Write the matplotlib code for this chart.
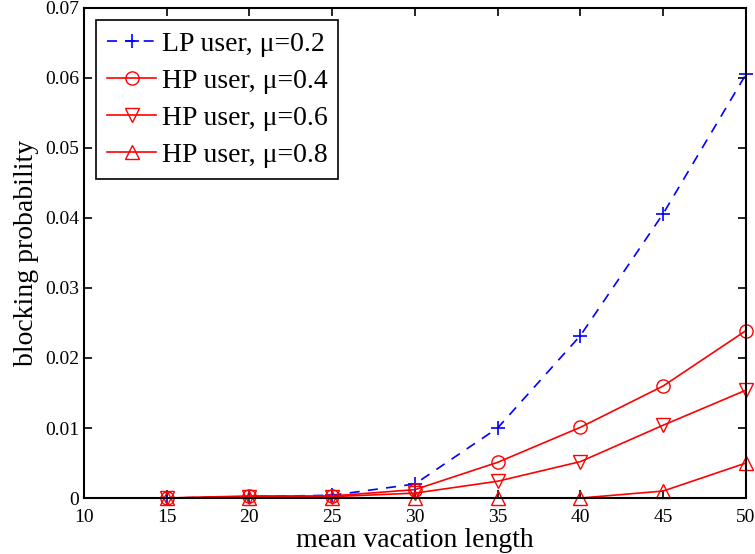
import matplotlib.pyplot as plt

plt.rcParams['font.family'] = ['Liberation Serif', 'DejaVu Serif']

vacation = [15, 20, 25, 30, 35, 40, 45, 50]
lp_02 = [0.0, 0.0002, 0.0004, 0.002, 0.0100, 0.0232, 0.0406, 0.0605]
hp_04 = [0.0, 0.0003, 0.0003, 0.0012, 0.0051, 0.0101, 0.0160, 0.0239]
hp_06 = [0.0, 0.0002, 0.0002, 0.0007, 0.0024, 0.0052, 0.0104, 0.0154]
hp_08 = [0.0, 0.0, 0.0, 0.0, 0.0, 0.0, 0.0010, 0.0050]

fig = plt.figure(figsize=(7.55, 5.54), dpi=100)
ax = fig.add_axes([0.111, 0.101, 0.877, 0.885])

ax.plot(vacation, lp_02, '--+', color='blue', ms=10, mew=1.2, lw=1.2, clip_on=False,
        dashes=(6, 5), label='LP user, μ=0.2')
ax.plot(vacation, hp_04, '-o', color='red', ms=9.5, mfc='none', lw=1.2, clip_on=False,
        label='HP user, μ=0.4')
ax.plot(vacation, hp_06, '-v', color='red', ms=9.5, mfc='none', lw=1.2, clip_on=False,
        label='HP user, μ=0.6')
ax.plot(vacation, hp_08, '-^', color='red', ms=9.5, mfc='none', lw=1.2, clip_on=False,
        label='HP user, μ=0.8')

ax.set_xlim(10, 50)
ax.set_ylim(0, 0.07)
ax.set_xticks(range(10, 51, 5))
ax.set_yticks([0, 0.01, 0.02, 0.03, 0.04, 0.05, 0.06, 0.07])
ax.set_yticklabels(['0', '0.01', '0.02', '0.03', '0.04', '0.05', '0.06', '0.07'])
ax.tick_params(direction='in', top=True, right=True, labelsize=14, length=6, width=1.2)
ax.tick_params(axis='x', pad=8)
for s in ax.spines.values():
    s.set_linewidth(1.5)

ax.set_xlabel('mean vacation length', fontsize=20, labelpad=1)
ax.set_ylabel('blocking probability', fontsize=20, labelpad=4)

leg = ax.legend(loc='upper left', fontsize=20, fancybox=False, edgecolor='black',
                framealpha=1, handlelength=1.75, handletextpad=0.2, borderaxespad=0.45,
                labelspacing=0.42, borderpad=0.4)
leg.get_frame().set_linewidth(1.2)

fig.savefig('out.png', dpi=100)
